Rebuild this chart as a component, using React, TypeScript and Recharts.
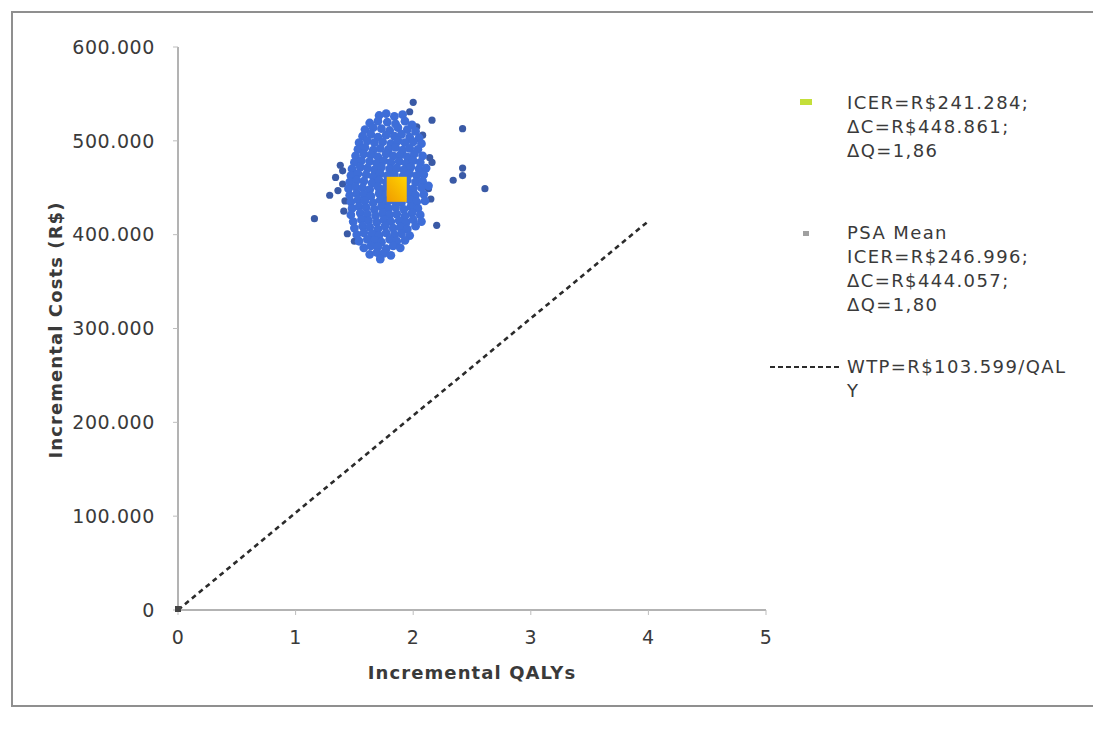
import { ScatterChart, Scatter, XAxis, YAxis } from "recharts";

// PSA iterations as [incremental QALYs, incremental costs in R$ thousands]
const psaCore: [number, number][] = [
  [1.71, 527], [1.77, 529], [1.84, 526], [1.91, 528],
  [1.63, 519], [1.7, 521], [1.78, 520], [1.85, 518], [1.93, 521], [1.99, 517],
  [1.59, 512], [1.66, 514], [1.73, 513], [1.8, 511], [1.87, 514], [1.95, 512], [2.02, 510],
  [1.57, 505], [1.64, 507], [1.7, 504], [1.77, 506], [1.84, 505], [1.9, 507], [1.97, 504], [2.05, 503],
  [1.54, 498], [1.61, 500], [1.67, 498], [1.74, 499], [1.81, 497], [1.87, 500], [1.93, 498], [2.0, 499], [2.07, 497],
  [1.53, 491], [1.59, 493], [1.66, 490], [1.72, 492], [1.79, 491], [1.85, 493], [1.91, 490], [1.97, 492], [2.04, 491],
  [1.51, 484], [1.58, 486], [1.64, 485], [1.7, 483], [1.77, 486], [1.83, 484], [1.89, 485], [1.95, 483], [2.01, 486], [2.08, 484],
  [1.5, 477], [1.56, 479], [1.63, 478], [1.69, 476], [1.75, 479], [1.81, 477], [1.88, 478], [1.94, 476], [2.0, 479], [2.06, 477],
  [1.48, 470], [1.55, 472], [1.61, 471], [1.67, 469], [1.73, 472], [1.8, 470], [1.86, 471], [1.92, 469], [1.98, 472], [2.05, 470], [2.11, 471],
  [1.47, 463], [1.53, 465], [1.6, 464], [1.66, 462], [1.72, 465], [1.78, 463], [1.84, 464], [1.91, 462], [1.97, 465], [2.03, 463], [2.09, 464],
  [1.46, 456], [1.52, 458], [1.58, 457], [1.65, 455], [1.71, 458], [1.77, 456], [1.83, 457], [1.89, 455], [1.95, 458], [2.02, 456], [2.08, 457],
  [1.45, 449], [1.51, 451], [1.57, 450], [1.63, 448], [1.7, 451], [1.76, 449], [1.82, 450], [1.88, 448], [1.94, 451], [2.0, 449], [2.07, 450], [2.13, 452],
  [1.46, 442], [1.52, 444], [1.58, 443], [1.64, 441], [1.71, 444], [1.77, 442], [1.83, 443], [1.89, 441], [1.96, 444], [2.02, 442], [2.09, 443],
  [1.47, 435], [1.53, 437], [1.59, 436], [1.66, 434], [1.72, 437], [1.78, 435], [1.84, 436], [1.9, 434], [1.97, 437], [2.03, 435], [2.1, 436],
  [1.48, 428], [1.54, 430], [1.6, 429], [1.67, 427], [1.73, 430], [1.79, 428], [1.85, 429], [1.92, 427], [1.98, 430], [2.04, 428],
  [1.47, 421], [1.55, 423], [1.61, 422], [1.68, 420], [1.74, 423], [1.8, 421], [1.86, 422], [1.93, 420], [1.99, 423], [2.06, 421],
  [1.49, 414], [1.56, 416], [1.62, 415], [1.69, 413], [1.75, 416], [1.81, 414], [1.88, 415], [1.94, 413], [2.0, 416], [2.07, 414],
  [1.5, 407], [1.57, 409], [1.63, 408], [1.7, 406], [1.76, 409], [1.83, 407], [1.89, 408], [1.95, 406], [2.02, 409],
  [1.52, 400], [1.58, 402], [1.65, 401], [1.71, 399], [1.77, 402], [1.84, 400], [1.9, 401], [1.97, 399],
  [1.54, 393], [1.61, 395], [1.67, 394], [1.73, 392], [1.8, 395], [1.86, 393], [1.93, 394],
  [1.58, 386], [1.64, 388], [1.7, 387], [1.77, 385], [1.83, 388], [1.89, 386],
  [1.63, 379], [1.69, 381], [1.75, 380], [1.81, 378],
  [1.72, 374],
];

const psaOutliers: [number, number][] = [
  [2.0, 541], [1.97, 531], [2.16, 522], [2.42, 513], [2.03, 515], [2.08, 506],
  [2.14, 482], [2.16, 477], [2.42, 471], [2.42, 463], [2.34, 458], [2.61, 449],
  [2.13, 449], [1.38, 474], [1.34, 461], [1.4, 454], [1.29, 442], [1.16, 417],
  [2.2, 410], [1.44, 401], [1.72, 376], [1.4, 468], [1.42, 436], [1.41, 425],
  [2.15, 438], [1.5, 393], [1.36, 447],
];

const psaMean = { x: 1.8, y: 444057 };
const baseIcer = { x: 1.86, y: 448861 };
const wtpPerQaly = 103599;
const wtpQalys = [0, 4];

const xTicks = [0, 1, 2, 3, 4, 5];
const yTicks = [0, 100000, 200000, 300000, 400000, 500000, 600000];

const coreData = psaCore.map(([q, c]) => ({ x: q, y: c * 1000 }));
const outlierData = psaOutliers.map(([q, c]) => ({ x: q, y: c * 1000 }));
const wtpData = wtpQalys.map((q) => ({ x: q, y: q * wtpPerQaly }));

const FONT = '"DejaVu Sans", Verdana, sans-serif';
const TEXT = "#3a3a3a";

const fmt = (v: number) => String(v).replace(/\B(?=(\d{3})+(?!\d))/g, ".");

// eslint-disable-next-line @typescript-eslint/no-explicit-any
const dot = (p: any) => <circle cx={p.cx} cy={p.cy} r={4.4} fill="#3e6ed8" />;

// eslint-disable-next-line @typescript-eslint/no-explicit-any
const outlierDot = (p: any) => <circle cx={p.cx} cy={p.cy} r={3.6} fill="#3a5aa6" />;

// eslint-disable-next-line @typescript-eslint/no-explicit-any
const icerSquare = (p: any) => (
  <rect x={p.cx - 10} y={p.cy - 12} width={20} height={25} fill="url(#icerFill)" />
);

// eslint-disable-next-line @typescript-eslint/no-explicit-any
const meanDot = (p: any) => <rect x={p.cx - 3} y={p.cy - 3} width={6} height={6} fill="#9a9a9a" />;

// eslint-disable-next-line @typescript-eslint/no-explicit-any
const wtpEnd = (p: any) =>
  p.payload && p.payload.x === 0 ? (
    <rect x={p.cx - 3} y={p.cy - 4} width={6} height={6} fill="#444" />
  ) : (
    <g />
  );

const tickStyle = { fill: TEXT, fontSize: 19, fontFamily: FONT, letterSpacing: 0.6 };

const legendText = {
  position: "absolute" as const,
  left: 847,
  fontSize: 18,
  letterSpacing: 1.4,
  lineHeight: "24px",
  color: TEXT,
  whiteSpace: "nowrap" as const,
};

export default function App() {
  return (
    <div
      style={{
        position: "relative",
        width: 1093,
        height: 729,
        background: "#fff",
        overflow: "hidden",
        fontFamily: FONT,
      }}
    >
      <style>{"html,body{margin:0;padding:0;overflow:hidden}"}</style>
      <div
        style={{
          position: "absolute",
          left: 11,
          top: 11,
          width: 1082,
          height: 692,
          borderTop: "2px solid #8f8f8f",
          borderLeft: "2px solid #8f8f8f",
          borderBottom: "2px solid #8f8f8f",
        }}
      />
      <div style={{ position: "absolute", left: 0, top: 0 }}>
        <ScatterChart
          width={1093}
          height={729}
          margin={{ top: 47, right: 327, bottom: 79, left: 0 }}
        >
          <defs>
            <linearGradient id="icerFill" x1="0" y1="1" x2="1" y2="0">
              <stop offset="0%" stopColor="#f09a00" />
              <stop offset="100%" stopColor="#ffd500" />
            </linearGradient>
          </defs>
          <XAxis
            type="number"
            dataKey="x"
            domain={[0, 5]}
            ticks={xTicks}
            height={40}
            tick={tickStyle}
            tickSize={5}
            tickMargin={16}
            axisLine={{ stroke: "#9a9a9a", strokeWidth: 1.5 }}
            tickLine={{ stroke: "#bdbdbd" }}
          />
          <YAxis
            type="number"
            dataKey="y"
            domain={[0, 600000]}
            ticks={yTicks}
            width={178}
            tick={tickStyle}
            tickFormatter={fmt}
            tickSize={5}
            tickMargin={18}
            axisLine={{ stroke: "#9a9a9a", strokeWidth: 1.5 }}
            tickLine={{ stroke: "#bdbdbd" }}
          />
          <Scatter
            data={wtpData}
            line={{ stroke: "#2b2b2b", strokeWidth: 2.6, strokeDasharray: "5 4" }}
            shape={wtpEnd}
            isAnimationActive={false}
          />
          <Scatter data={outlierData} shape={outlierDot} isAnimationActive={false} />
          <Scatter data={coreData} shape={dot} isAnimationActive={false} />
          <Scatter data={[psaMean]} shape={meanDot} isAnimationActive={false} />
          <Scatter data={[baseIcer]} shape={icerSquare} isAnimationActive={false} />
        </ScatterChart>
      </div>

      {/* axis titles */}
      <div
        style={{
          position: "absolute",
          left: 472,
          top: 672,
          transform: "translate(-50%, -50%)",
          fontWeight: "bold",
          fontSize: 18,
          letterSpacing: 1.1,
          color: TEXT,
          whiteSpace: "nowrap",
        }}
      >
        Incremental QALYs
      </div>
      <div
        style={{
          position: "absolute",
          left: 55,
          top: 330,
          transform: "translate(-50%, -50%) rotate(-90deg)",
          fontWeight: "bold",
          fontSize: 18,
          letterSpacing: 1.1,
          color: TEXT,
          whiteSpace: "nowrap",
        }}
      >
        Incremental Costs (R$)
      </div>

      {/* legend */}
      <div
        style={{
          position: "absolute",
          left: 800,
          top: 99,
          width: 12,
          height: 6,
          background: "#c4df3a",
        }}
      />
      <div style={{ ...legendText, top: 91 }}>
        ICER=R$241.284;
        <br />
        ΔC=R$448.861;
        <br />
        ΔQ=1,86
      </div>
      <div
        style={{
          position: "absolute",
          left: 803,
          top: 231,
          width: 6,
          height: 5,
          background: "#a0a0a0",
        }}
      />
      <div style={{ ...legendText, top: 221 }}>
        PSA Mean
        <br />
        ICER=R$246.996;
        <br />
        ΔC=R$444.057;
        <br />
        ΔQ=1,80
      </div>
      <svg
        style={{ position: "absolute", left: 770, top: 360 }}
        width={74}
        height={14}
      >
        <line x1={0} y1={7} x2={72} y2={7} stroke="#2b2b2b" strokeWidth={2} strokeDasharray="5 3" />
      </svg>
      <div style={{ ...legendText, top: 355 }}>
        WTP=R$103.599/QAL
        <br />
        Y
      </div>
    </div>
  );
}
